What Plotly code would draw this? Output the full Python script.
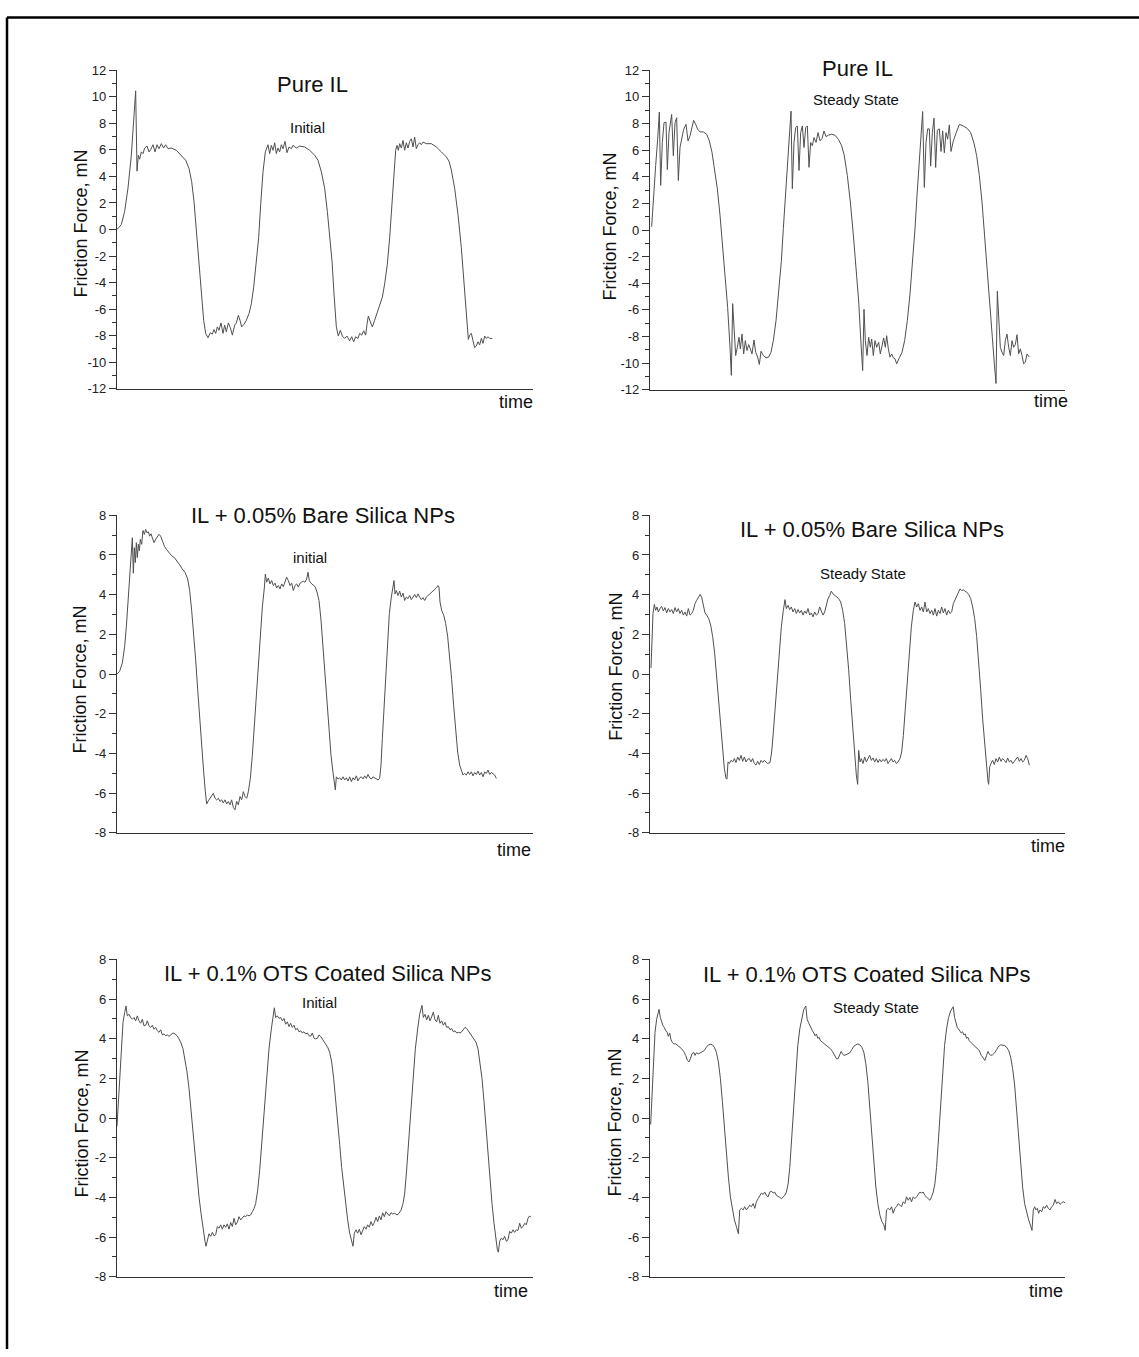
import plotly.graph_objects as go

W, H = 1139, 1357
FONT = "Liberation Sans, Arial, sans-serif"

# ---------------------------------------------------------------------------
# Friction force traces: (time, friction force in mN)
# ---------------------------------------------------------------------------
PURE_IL_INITIAL = [
    (0, 0.0), (13, 0.37), (23, 1.37), (33, 3.13), (43, 5.60), (50, 8.08), (56, 10.45), (60, 4.40),
    (64, 5.60), (68, 5.30), (73, 5.85), (78, 5.72), (83, 6.14), (90, 6.29), (96, 5.85), (101, 6.02),
    (108, 6.39), (114, 5.85), (120, 6.39), (126, 6.09), (133, 6.47), (140, 6.14), (146, 6.39),
    (153, 6.09), (163, 6.14), (178, 5.97), (193, 5.60), (206, 5.22), (216, 4.60), (224, 3.61),
    (231, 2.11), (238, 0.0), (246, -2.36), (253, -4.85), (260, -6.84), (266, -7.83), (273, -8.16),
    (280, -7.78), (286, -7.88), (291, -7.54), (296, -7.83), (301, -7.34), (306, -7.59), (312, -7.04),
    (318, -7.83), (323, -7.21), (328, -7.71), (334, -7.04), (340, -7.39), (346, -7.96), (353, -7.21),
    (358, -7.04), (364, -6.47), (369, -6.84), (374, -7.34), (381, -7.14), (388, -6.84), (396, -6.34),
    (403, -5.60), (410, -4.35), (418, -2.61), (425, -0.62), (431, 1.87), (438, 4.35), (445, 5.85),
    (448, 6.09), (453, 6.39), (458, 5.72), (463, 6.34), (468, 5.97), (473, 6.54), (478, 5.72),
    (483, 6.14), (488, 5.85), (493, 6.39), (498, 6.09), (504, 6.64), (510, 5.79), (516, 6.22),
    (523, 6.09), (528, 6.34), (538, 6.14), (548, 6.29), (563, 6.22), (578, 5.97), (593, 5.60),
    (603, 5.22), (613, 4.35), (623, 3.11), (631, 1.37), (638, -0.37), (645, -2.36), (651, -4.85),
    (658, -7.34), (664, -8.03), (670, -7.59), (676, -8.03), (683, -8.21), (690, -8.03), (698, -8.38),
    (704, -8.08), (710, -8.46), (716, -8.08), (723, -8.21), (728, -7.83), (734, -7.96), (740, -7.63),
    (746, -7.96), (750, -7.14), (754, -6.52), (760, -6.96), (766, -7.34), (773, -6.84), (780, -6.34),
    (788, -5.84), (796, -5.10), (803, -4.10), (811, -2.61), (818, -0.62), (825, 1.87), (831, 4.35),
    (836, 5.97), (840, 6.34), (844, 5.97), (848, 6.47), (853, 6.14), (858, 6.71), (863, 5.97),
    (868, 6.54), (873, 6.14), (878, 6.64), (883, 6.84), (888, 6.22), (893, 6.96), (898, 6.09),
    (903, 6.39), (908, 6.54), (913, 6.39), (918, 6.59), (928, 6.47), (943, 6.47), (958, 6.22),
    (973, 5.85), (988, 5.47), (996, 5.15), (1003, 4.48), (1013, 3.11), (1023, 1.12), (1033, -1.37),
    (1041, -3.85), (1048, -6.34), (1054, -8.28), (1058, -7.96), (1063, -7.83), (1068, -8.38),
    (1073, -8.90), (1078, -8.78), (1083, -8.46), (1088, -8.70), (1093, -8.21), (1098, -8.58),
    (1103, -8.03), (1108, -8.21), (1113, -8.08), (1118, -8.21), (1126, -8.21),
]

PURE_IL_STEADY = [
    (5, 0.25), (10, 1.86), (17, 4.84), (23, 6.82), (28, 8.86), (32, 3.35), (37, 6.58), (42, 8.06),
    (48, 8.11), (52, 4.54), (57, 7.32), (62, 8.19), (65, 8.68), (70, 5.58), (75, 8.06), (80, 8.44),
    (85, 3.72), (90, 6.20), (96, 7.07), (101, 7.57), (108, 7.94), (114, 6.70), (120, 7.07),
    (126, 7.82), (131, 8.24), (137, 7.94), (143, 7.57), (150, 7.37), (160, 7.37), (170, 7.20),
    (178, 6.70), (186, 5.83), (194, 4.59), (202, 3.10), (210, 1.12), (218, -1.12), (226, -3.35),
    (233, -5.83), (240, -8.81), (244, -10.92), (248, -5.53), (252, -7.57), (257, -9.43), (262, -8.81),
    (267, -8.06), (271, -8.93), (276, -7.82), (281, -9.31), (286, -8.31), (291, -9.06), (296, -8.61),
    (301, -8.93), (306, -9.31), (312, -8.26), (317, -9.18), (323, -9.55), (328, -10.10), (333, -9.11),
    (340, -9.43), (348, -9.60), (356, -9.55), (363, -9.18), (370, -8.31), (378, -6.82), (386, -4.84),
    (394, -2.36), (400, 0.12), (406, 2.61), (412, 5.09), (418, 7.07), (423, 8.93), (427, 3.10),
    (432, 6.58), (437, 7.69), (442, 7.82), (447, 4.47), (452, 7.32), (457, 7.82), (462, 6.20),
    (467, 7.69), (472, 7.82), (477, 4.71), (482, 6.58), (487, 6.33), (492, 6.95), (498, 6.58),
    (504, 7.32), (510, 6.70), (516, 6.87), (522, 7.44), (528, 7.02), (535, 7.12), (545, 7.20),
    (555, 7.12), (565, 6.82), (575, 6.33), (583, 5.58), (592, 4.09), (601, 2.11), (610, -0.37),
    (618, -2.85), (626, -5.33), (633, -8.56), (638, -10.55), (642, -5.96), (646, -8.31), (651, -9.43),
    (656, -8.06), (661, -8.81), (665, -8.19), (670, -9.43), (675, -8.31), (680, -8.81), (686, -8.44),
    (691, -9.31), (696, -8.68), (701, -8.11), (706, -8.81), (710, -7.94), (715, -8.93), (720, -9.55),
    (725, -9.31), (730, -9.60), (735, -9.68), (740, -10.05), (748, -9.60), (756, -9.20), (764, -8.30),
    (772, -6.80), (780, -4.80), (788, -2.40), (795, 0.10), (801, 2.60), (807, 5.10), (813, 7.10),
    (818, 8.90), (823, 3.20), (828, 6.58), (833, 7.60), (838, 7.60), (842, 4.80), (847, 7.32),
    (852, 8.40), (857, 4.70), (862, 7.50), (868, 7.60), (873, 5.90), (878, 7.45), (883, 5.80),
    (888, 7.32), (893, 6.82), (898, 7.90), (903, 5.90), (910, 6.70), (918, 7.27), (928, 7.94),
    (940, 7.82), (952, 7.62), (962, 7.32), (972, 6.52), (980, 5.58), (988, 4.09), (996, 2.11),
    (1004, -0.37), (1012, -2.85), (1020, -5.33), (1027, -8.06), (1033, -10.05), (1038, -11.53),
    (1042, -4.60), (1046, -6.82), (1051, -8.81), (1056, -9.18), (1061, -9.43), (1066, -8.31),
    (1071, -7.82), (1076, -8.81), (1081, -9.43), (1086, -8.31), (1091, -8.81), (1096, -8.61),
    (1101, -7.87), (1106, -9.31), (1111, -8.93), (1116, -9.43), (1121, -10.05), (1126, -9.93),
    (1131, -9.31), (1138, -9.55),
]

BARE_SILICA_INITIAL = [
    (0, 0.0), (8, 0.14), (16, 0.56), (23, 1.39), (28, 2.38), (33, 3.71), (38, 4.88), (43, 6.21),
    (46, 6.87), (49, 5.08), (52, 6.37), (55, 5.62), (58, 6.62), (61, 5.87), (64, 6.54), (67, 6.21),
    (70, 6.79), (74, 6.54), (78, 7.24), (82, 7.04), (86, 7.29), (90, 7.12), (94, 7.17), (98, 6.95),
    (102, 7.07), (106, 6.87), (111, 6.62), (116, 6.79), (121, 6.90), (126, 7.04), (131, 6.95),
    (136, 6.70), (142, 6.45), (148, 6.29), (156, 6.12), (164, 5.96), (172, 5.87), (180, 5.71),
    (188, 5.51), (196, 5.29), (204, 5.13), (212, 4.79), (218, 4.21), (224, 3.21), (230, 2.05),
    (236, 0.72), (242, -0.77), (248, -2.27), (254, -3.60), (260, -4.93), (265, -5.93), (269, -6.55),
    (274, -6.39), (279, -6.26), (284, -6.09), (289, -6.01), (294, -6.26), (299, -6.34), (304, -6.26),
    (309, -6.42), (314, -6.34), (319, -6.50), (324, -6.34), (329, -6.55), (334, -6.42), (339, -6.59),
    (344, -6.34), (349, -6.72), (354, -6.84), (359, -6.42), (364, -6.59), (369, -6.17), (374, -6.34),
    (379, -5.93), (384, -6.17), (389, -6.26), (394, -5.93), (400, -5.26), (406, -4.10), (412, -2.60),
    (418, -0.94), (424, 0.89), (430, 2.38), (436, 3.38), (442, 4.34), (445, 5.04), (449, 4.63),
    (454, 4.84), (459, 4.54), (464, 4.71), (469, 4.46), (474, 4.58), (479, 4.34), (484, 4.46),
    (489, 4.29), (494, 4.54), (499, 4.41), (504, 4.63), (509, 4.88), (514, 4.71), (519, 4.46),
    (524, 4.58), (529, 4.21), (534, 4.46), (539, 4.54), (544, 4.38), (549, 4.58), (554, 4.63),
    (559, 4.68), (564, 4.63), (569, 4.79), (573, 5.13), (577, 4.71), (582, 4.58), (588, 4.51),
    (594, 4.41), (600, 4.13), (606, 3.71), (612, 2.72), (618, 1.39), (624, -0.11), (630, -1.60),
    (636, -2.93), (642, -4.10), (648, -4.96), (652, -5.34), (655, -5.84), (658, -5.18), (663, -5.29),
    (668, -5.23), (673, -5.34), (678, -5.18), (683, -5.34), (688, -5.23), (693, -5.39), (698, -5.18),
    (703, -5.42), (708, -5.23), (713, -5.34), (718, -5.13), (723, -5.39), (728, -5.23), (733, -5.18),
    (738, -5.29), (743, -5.13), (748, -5.26), (753, -5.06), (758, -5.23), (763, -5.29), (768, -5.18),
    (776, -5.26), (783, -5.34), (788, -5.26), (792, -4.59), (796, -3.26), (801, -1.60), (806, 0.06),
    (811, 1.72), (817, 3.05), (823, 3.88), (828, 4.38), (831, 4.71), (834, 4.04), (838, 4.21),
    (843, 3.96), (848, 4.18), (853, 3.88), (858, 4.08), (863, 3.71), (868, 3.88), (873, 3.80),
    (878, 3.96), (883, 3.75), (888, 3.88), (893, 4.01), (898, 3.85), (903, 4.04), (908, 3.88),
    (913, 3.75), (918, 3.85), (923, 3.71), (928, 3.88), (933, 3.96), (938, 4.04), (943, 4.13),
    (948, 4.21), (953, 4.24), (958, 4.34), (963, 4.46), (966, 4.38), (969, 3.63), (974, 3.21),
    (980, 2.97), (986, 2.55), (992, 1.89), (998, 0.89), (1004, -0.27), (1010, -1.60), (1016, -2.93),
    (1022, -3.93), (1028, -4.59), (1034, -4.93), (1038, -5.09), (1043, -5.01), (1048, -5.09),
    (1053, -4.93), (1058, -5.06), (1063, -4.93), (1068, -5.13), (1073, -4.96), (1078, -5.06),
    (1083, -4.89), (1088, -5.09), (1093, -4.96), (1098, -5.18), (1103, -4.93), (1108, -5.01),
    (1113, -4.84), (1118, -5.06), (1123, -4.96), (1128, -5.01), (1133, -5.09), (1138, -5.26),
]

BARE_SILICA_STEADY = [
    (3, 0.31), (6, 1.72), (9, 3.05), (13, 3.51), (17, 3.21), (21, 3.38), (25, 3.13), (30, 3.30),
    (35, 3.41), (40, 3.18), (45, 3.35), (50, 3.08), (55, 3.30), (60, 3.13), (65, 3.25), (70, 3.05),
    (75, 3.35), (80, 3.13), (85, 3.30), (90, 3.05), (95, 3.21), (100, 2.97), (105, 3.13), (110, 2.92),
    (115, 3.30), (120, 2.97), (125, 3.05), (130, 3.21), (135, 3.55), (140, 3.71), (145, 3.88),
    (150, 4.01), (155, 3.88), (160, 3.38), (165, 3.08), (170, 2.97), (176, 2.80), (182, 2.47),
    (188, 1.89), (194, 1.05), (200, -0.11), (206, -1.44), (212, -2.77), (218, -3.93), (223, -4.76),
    (228, -5.26), (231, -5.29), (234, -4.43), (238, -4.51), (243, -4.35), (248, -4.43), (253, -4.26),
    (258, -4.46), (263, -4.18), (268, -4.35), (273, -4.10), (278, -4.40), (283, -4.18), (288, -4.43),
    (293, -4.30), (298, -4.26), (303, -4.43), (308, -4.26), (313, -4.51), (318, -4.59), (323, -4.40),
    (328, -4.56), (333, -4.35), (338, -4.46), (343, -4.35), (348, -4.43), (353, -4.51), (360, -4.46),
    (365, -3.93), (370, -2.93), (376, -1.60), (382, -0.11), (388, 1.22), (394, 2.38), (400, 3.21),
    (405, 3.75), (409, 3.30), (414, 3.46), (419, 3.25), (424, 3.38), (429, 3.13), (434, 3.30),
    (439, 3.05), (444, 3.25), (449, 3.08), (454, 3.21), (459, 2.97), (464, 3.18), (469, 3.05),
    (474, 3.30), (479, 2.97), (484, 3.08), (489, 2.88), (494, 3.13), (499, 2.97), (504, 3.05),
    (509, 3.38), (514, 3.21), (519, 2.97), (524, 3.13), (529, 3.51), (534, 3.80), (539, 3.96),
    (544, 4.18), (549, 4.04), (554, 3.96), (560, 3.91), (566, 3.80), (572, 3.63), (578, 3.21),
    (584, 2.55), (590, 1.55), (596, 0.22), (602, -1.27), (608, -2.77), (614, -4.10), (619, -5.09),
    (623, -5.56), (626, -3.85), (630, -4.43), (634, -4.26), (639, -4.51), (644, -4.18), (649, -4.43),
    (654, -4.26), (659, -4.10), (664, -4.35), (669, -4.23), (674, -4.43), (679, -4.26), (684, -4.46),
    (689, -4.30), (694, -4.43), (699, -4.30), (704, -4.40), (709, -4.26), (714, -4.51), (719, -4.40),
    (724, -4.26), (729, -4.43), (734, -4.35), (739, -4.51), (744, -4.43), (750, -4.26), (755, -3.93),
    (760, -3.10), (766, -1.77), (772, -0.27), (778, 1.22), (784, 2.38), (790, 3.21), (795, 3.63),
    (800, 3.38), (805, 3.55), (810, 3.21), (815, 3.38), (820, 3.13), (825, 3.63), (830, 3.13),
    (835, 3.30), (840, 3.05), (845, 3.21), (850, 2.97), (855, 3.30), (860, 2.92), (865, 3.21),
    (870, 3.05), (875, 3.38), (880, 3.08), (885, 3.30), (890, 2.97), (895, 3.21), (900, 3.05),
    (905, 3.13), (910, 3.55), (915, 3.75), (920, 3.96), (925, 4.18), (930, 4.29), (935, 4.21),
    (940, 4.24), (945, 4.18), (950, 4.13), (956, 4.01), (962, 3.80), (968, 3.38), (974, 2.80),
    (980, 1.89), (986, 0.72), (992, -0.77), (998, -2.27), (1004, -3.60), (1010, -4.76), (1014, -5.42),
    (1016, -5.56), (1019, -4.68), (1023, -4.51), (1028, -4.35), (1033, -4.56), (1038, -4.26),
    (1043, -4.43), (1048, -4.18), (1053, -4.40), (1058, -4.26), (1063, -4.35), (1068, -4.46),
    (1073, -4.23), (1078, -4.43), (1083, -4.35), (1088, -4.51), (1093, -4.40), (1098, -4.26),
    (1103, -4.18), (1108, -4.40), (1113, -4.26), (1118, -4.43), (1123, -4.35), (1128, -4.10),
    (1133, -4.26), (1138, -4.59),
]

OTS_SILICA_INITIAL = [
    (0, -0.41), (4, 0.67), (8, 2.00), (13, 3.66), (18, 4.82), (23, 5.31), (27, 5.65), (31, 5.15),
    (36, 5.23), (41, 5.07), (46, 4.98), (51, 5.07), (56, 4.90), (61, 5.15), (66, 4.90), (71, 4.78),
    (76, 4.98), (81, 4.65), (86, 4.68), (91, 4.90), (96, 4.65), (101, 4.57), (106, 4.68), (111, 4.48),
    (116, 4.57), (121, 4.40), (126, 4.32), (131, 4.45), (136, 4.19), (141, 4.24), (146, 4.15),
    (151, 4.19), (156, 4.12), (161, 4.19), (168, 4.29), (174, 4.24), (180, 4.15), (186, 3.99),
    (192, 3.79), (198, 3.49), (204, 2.99), (210, 2.33), (216, 1.50), (222, 0.34), (228, -0.82),
    (234, -1.98), (240, -3.14), (246, -3.97), (252, -4.80), (258, -5.63), (264, -6.21), (267, -6.46),
    (271, -6.13), (276, -5.83), (281, -5.96), (286, -5.76), (291, -5.93), (296, -5.88), (301, -5.47),
    (306, -5.55), (311, -5.38), (316, -5.60), (321, -5.38), (326, -5.50), (331, -5.33), (336, -5.60),
    (341, -5.26), (346, -5.47), (351, -5.05), (356, -5.38), (361, -5.26), (366, -4.97), (371, -5.13),
    (376, -5.05), (381, -4.93), (386, -4.97), (391, -4.88), (396, -4.93), (401, -4.88), (406, -4.72),
    (411, -4.56), (416, -4.31), (422, -3.64), (428, -2.64), (435, -0.99), (442, 0.67), (449, 2.16),
    (456, 3.49), (463, 4.49), (469, 5.31), (472, 5.56), (476, 5.07), (481, 5.15), (486, 5.02),
    (491, 5.07), (496, 4.90), (501, 5.02), (506, 4.73), (511, 4.85), (516, 4.61), (521, 4.78),
    (526, 4.57), (531, 4.68), (536, 4.45), (541, 4.52), (546, 4.35), (551, 4.40), (556, 4.29),
    (561, 4.35), (566, 4.24), (571, 4.29), (576, 4.15), (581, 4.12), (586, 4.29), (591, 4.02),
    (596, 3.99), (601, 4.02), (606, 4.19), (611, 4.12), (616, 3.99), (621, 3.85), (626, 3.74),
    (632, 3.57), (638, 3.32), (644, 2.83), (650, 2.00), (656, 1.00), (662, -0.16), (668, -1.32),
    (674, -2.49), (680, -3.48), (686, -4.31), (692, -5.13), (698, -5.80), (704, -6.21), (708, -6.46),
    (712, -5.80), (717, -5.63), (722, -5.80), (727, -5.60), (732, -5.88), (737, -5.66), (742, -5.47),
    (747, -5.60), (752, -5.38), (757, -5.50), (762, -5.22), (767, -5.43), (772, -5.26), (777, -5.00),
    (782, -5.22), (787, -4.93), (792, -5.13), (797, -4.77), (802, -4.97), (807, -4.72), (812, -4.83),
    (817, -4.93), (822, -4.77), (827, -4.83), (833, -4.80), (840, -4.88), (846, -4.80), (852, -4.64),
    (858, -4.31), (863, -3.81), (868, -2.81), (874, -1.32), (881, 0.34), (888, 2.00), (895, 3.49),
    (902, 4.49), (908, 5.23), (915, 5.68), (919, 5.07), (924, 5.23), (929, 4.95), (934, 5.18),
    (939, 4.90), (944, 5.10), (949, 5.35), (954, 4.95), (959, 4.85), (964, 5.18), (969, 4.78),
    (974, 4.90), (979, 4.68), (984, 4.82), (989, 4.57), (994, 4.61), (999, 4.45), (1004, 4.52),
    (1009, 4.35), (1014, 4.40), (1019, 4.29), (1024, 4.32), (1029, 4.29), (1034, 4.35), (1039, 4.45),
    (1044, 4.57), (1049, 4.52), (1054, 4.40), (1059, 4.29), (1065, 4.15), (1071, 3.99), (1077, 3.82),
    (1083, 3.49), (1089, 2.83), (1095, 2.00), (1101, 0.84), (1107, -0.49), (1113, -1.82),
    (1119, -3.14), (1125, -4.31), (1131, -5.30), (1136, -6.05), (1141, -6.63), (1144, -6.76),
    (1148, -6.21), (1153, -6.05), (1158, -6.13), (1163, -5.96), (1168, -6.21), (1173, -6.13),
    (1178, -5.71), (1183, -5.80), (1188, -5.63), (1193, -5.76), (1198, -5.63), (1203, -5.66),
    (1208, -5.30), (1213, -5.55), (1218, -5.47), (1223, -5.30), (1228, -5.38), (1233, -5.05),
    (1238, -4.93), (1241, -5.00),
]

OTS_SILICA_STEADY = [
    (2, -0.32), (6, 1.33), (10, 2.99), (15, 4.32), (20, 4.98), (24, 5.40), (27, 5.48), (31, 5.07),
    (35, 4.82), (39, 4.65), (43, 4.57), (47, 4.40), (51, 4.35), (55, 4.12), (59, 4.29), (63, 3.95),
    (67, 3.82), (71, 3.74), (77, 3.74), (83, 3.66), (89, 3.57), (95, 3.49), (101, 3.36), (107, 3.16),
    (112, 2.91), (117, 2.83), (121, 2.99), (126, 3.24), (131, 3.32), (135, 3.16), (139, 3.29),
    (145, 3.24), (151, 3.29), (157, 3.36), (163, 3.41), (169, 3.57), (175, 3.69), (181, 3.72),
    (187, 3.69), (193, 3.57), (199, 3.32), (205, 2.83), (211, 2.00), (217, 0.84), (223, -0.49),
    (229, -1.82), (235, -2.98), (241, -3.97), (247, -4.63), (253, -5.13), (259, -5.47), (262, -5.63),
    (265, -5.83), (269, -4.63), (274, -4.55), (279, -4.63), (284, -4.47), (289, -4.63), (294, -4.47),
    (299, -4.39), (304, -4.47), (309, -4.31), (314, -4.55), (319, -4.22), (324, -4.06), (329, -3.90),
    (334, -3.78), (339, -3.85), (344, -3.73), (349, -3.90), (354, -3.97), (359, -3.73), (364, -3.68),
    (369, -3.78), (374, -3.73), (379, -3.90), (384, -3.97), (389, -4.00), (394, -4.06), (399, -3.97),
    (404, -3.90), (409, -3.73), (414, -3.31), (419, -2.49), (425, -0.99), (431, 0.67), (437, 2.33),
    (443, 3.66), (449, 4.49), (455, 5.07), (461, 5.48), (467, 5.65), (471, 4.98), (475, 4.82),
    (479, 4.65), (483, 4.57), (487, 4.40), (491, 4.29), (495, 4.15), (499, 4.24), (503, 4.02),
    (507, 4.07), (511, 3.90), (517, 3.82), (523, 3.74), (529, 3.66), (535, 3.57), (541, 3.49),
    (547, 3.36), (553, 3.16), (559, 2.99), (564, 2.99), (569, 3.24), (573, 3.36), (577, 3.24),
    (581, 3.16), (587, 3.19), (593, 3.24), (599, 3.29), (605, 3.45), (611, 3.62), (617, 3.69),
    (623, 3.74), (629, 3.69), (635, 3.57), (641, 3.32), (647, 2.74), (653, 1.83), (659, 0.51),
    (665, -0.99), (671, -2.32), (677, -3.48), (683, -4.31), (689, -4.88), (695, -5.22), (701, -5.38),
    (705, -5.66), (709, -4.63), (714, -4.55), (719, -4.63), (724, -4.47), (729, -4.80), (734, -4.55),
    (739, -4.47), (744, -4.31), (749, -4.39), (754, -4.47), (759, -4.22), (764, -4.31), (769, -3.97),
    (774, -4.14), (779, -4.00), (784, -4.22), (789, -3.97), (794, -4.06), (799, -3.97), (804, -3.81),
    (809, -3.73), (814, -3.78), (819, -3.73), (824, -3.90), (829, -3.97), (834, -4.06), (839, -4.14),
    (844, -3.97), (849, -3.73), (854, -3.31), (859, -2.49), (865, -0.99), (871, 0.67), (877, 2.33),
    (883, 3.66), (889, 4.49), (895, 5.07), (901, 5.40), (909, 5.61), (913, 5.07), (917, 4.82),
    (921, 4.57), (925, 4.48), (929, 4.40), (933, 4.29), (937, 4.35), (941, 4.19), (945, 4.24),
    (949, 4.02), (953, 4.07), (957, 3.90), (963, 3.79), (969, 3.69), (975, 3.62), (981, 3.49),
    (987, 3.41), (993, 3.16), (999, 2.99), (1004, 2.91), (1009, 3.16), (1013, 3.36), (1017, 3.24),
    (1021, 3.16), (1027, 3.19), (1033, 3.29), (1039, 3.45), (1045, 3.62), (1051, 3.69), (1057, 3.69),
    (1063, 3.66), (1069, 3.57), (1075, 3.41), (1081, 3.08), (1087, 2.50), (1093, 1.67), (1099, 0.34),
    (1105, -0.99), (1111, -2.32), (1117, -3.48), (1123, -4.31), (1129, -4.80), (1135, -5.13),
    (1141, -5.43), (1145, -5.66), (1149, -4.63), (1153, -4.47), (1157, -4.63), (1161, -4.55),
    (1165, -4.80), (1169, -4.63), (1174, -4.72), (1179, -4.47), (1184, -4.55), (1189, -4.39),
    (1194, -4.55), (1199, -4.63), (1204, -4.47), (1209, -4.39), (1214, -4.10), (1219, -4.31),
    (1224, -4.22), (1229, -4.35), (1234, -4.27), (1239, -4.22), (1244, -4.27),
]

# Y tick values / labels (hyphen-minus as printed on the axes)
TICKS_WIDE = [-12, -10, -8, -6, -4, -2, 0, 2, 4, 6, 8, 10, 12]
TICKS_NARROW = [-8, -6, -4, -2, 0, 2, 4, 6, 8]

TITLES = ["Pure IL", "Pure IL",
          "IL + 0.05% Bare Silica NPs", "IL + 0.05% Bare Silica NPs",
          "IL + 0.1% OTS Coated Silica NPs", "IL + 0.1% OTS Coated Silica NPs"]
STATES = ["Initial", "Steady State", "initial", "Steady State", "Initial", "Steady State"]
SERIES = [PURE_IL_INITIAL, PURE_IL_STEADY, BARE_SILICA_INITIAL, BARE_SILICA_STEADY,
          OTS_SILICA_INITIAL, OTS_SILICA_STEADY]
Y_TICKS = [TICKS_WIDE, TICKS_WIDE, TICKS_NARROW, TICKS_NARROW, TICKS_NARROW, TICKS_NARROW]
T_END = [1248, 1245, 1248, 1245, 1248, 1244]

# ---------------------------------------------------------------------------
# Page geometry (pixels): plot boxes and text anchors per panel
# ---------------------------------------------------------------------------
BOXES = [(117, 533, 64, 386), (650, 1065, 64, 387),
         (117, 533, 514, 835), (650, 1065, 514, 835),
         (117, 533, 963, 1284), (650, 1065, 963, 1284)]
TITLE_POS = [(312, 78), (857, 62), (323, 514), (872, 528), (328, 977), (867, 978)]
STATE_POS = [(307, 122), (856, 94), (310, 557), (863, 573), (319, 1007), (876, 1012)]
TIME_POS = [(516, 399), (1051, 398), (514, 852), (1048, 848), (511, 1298), (1046, 1298)]
YLAB_POS = [(81, 219), (610, 222), (80, 680), (616, 667), (82, 1129), (615, 1128)]


def px(x):
    return x / W


def py(y):
    return 1 - y / H


fig = go.Figure()
layout = dict(
    width=W, height=H, autosize=False,
    margin=dict(l=0, r=0, t=0, b=0),
    paper_bgcolor="white", plot_bgcolor="white",
    showlegend=False,
    font=dict(family=FONT, color="#111"),
)
annotations = []

for i, samples in enumerate(SERIES):
    n = i + 1
    xa = "xaxis" if n == 1 else f"xaxis{n}"
    ya = "yaxis" if n == 1 else f"yaxis{n}"
    xr = "x" if n == 1 else f"x{n}"
    yr = "y" if n == 1 else f"y{n}"
    t = [s[0] for s in samples]
    f = [s[1] for s in samples]
    fig.add_trace(go.Scatter(x=t, y=f, mode="lines", xaxis=xr, yaxis=yr,
                             line=dict(color="#505050", width=1), hoverinfo="skip"))
    x0, x1, y0, y1 = BOXES[i]
    ticks = Y_TICKS[i]
    layout[xa] = dict(
        domain=[px(x0), px(x1)], anchor=yr, range=[0, T_END[i]],
        showline=True, linecolor="#333", linewidth=1.2, mirror=False,
        showticklabels=False, ticks="", showgrid=False, zeroline=False,
    )
    layout[ya] = dict(
        domain=[py(y1), py(y0)], anchor=xr, range=[ticks[0], ticks[-1]],
        showline=True, linecolor="#333", linewidth=1.2,
        tickmode="array", tickvals=ticks, ticktext=[str(v) for v in ticks],
        ticks="outside", ticklen=7, tickwidth=1, tickcolor="#333",
        minor=dict(dtick=1, tick0=0, ticks="outside", ticklen=4, tickwidth=1,
                   tickcolor="#333", showgrid=False),
        tickfont=dict(family=FONT, size=13, color="#222"),
        showgrid=False, zeroline=False,
    )
    tx, ty = TITLE_POS[i]
    annotations.append(dict(text=TITLES[i], x=px(tx), y=py(ty), xref="paper", yref="paper",
                            xanchor="center", yanchor="middle", showarrow=False,
                            font=dict(family=FONT, size=22, color="#111")))
    sx, sy = STATE_POS[i]
    annotations.append(dict(text=STATES[i], x=px(sx), y=py(sy), xref="paper", yref="paper",
                            xanchor="center", yanchor="middle", showarrow=False,
                            font=dict(family=FONT, size=15, color="#111")))
    mx, my = TIME_POS[i]
    annotations.append(dict(text="time", x=px(mx), y=py(my), xref="paper", yref="paper",
                            xanchor="center", yanchor="middle", showarrow=False,
                            font=dict(family=FONT, size=18, color="#111")))
    lx, ly = YLAB_POS[i]
    annotations.append(dict(text="Friction Force, mN", x=px(lx), y=py(ly),
                            xref="paper", yref="paper", textangle=-90,
                            xanchor="center", yanchor="middle", showarrow=False,
                            font=dict(family=FONT, size=18, color="#111")))

layout["annotations"] = annotations
# outer frame: top and left rules of the figure border
layout["shapes"] = [
    dict(type="line", xref="paper", yref="paper", x0=px(7), y0=py(10.5), x1=1.0, y1=py(10.5),
         line=dict(color="black", width=2.5)),
    dict(type="line", xref="paper", yref="paper", x0=px(7), y0=py(10.5), x1=px(7), y1=0.0,
         line=dict(color="black", width=2.5)),
]
fig.update_layout(**layout)

# page body without default spacing so the figure sits at the window origin
fig.write_html(
    "out.html",
    post_script="document.body.style.margin='0';document.body.style.padding='0';"
                "document.body.style.overflow='hidden';",
)
